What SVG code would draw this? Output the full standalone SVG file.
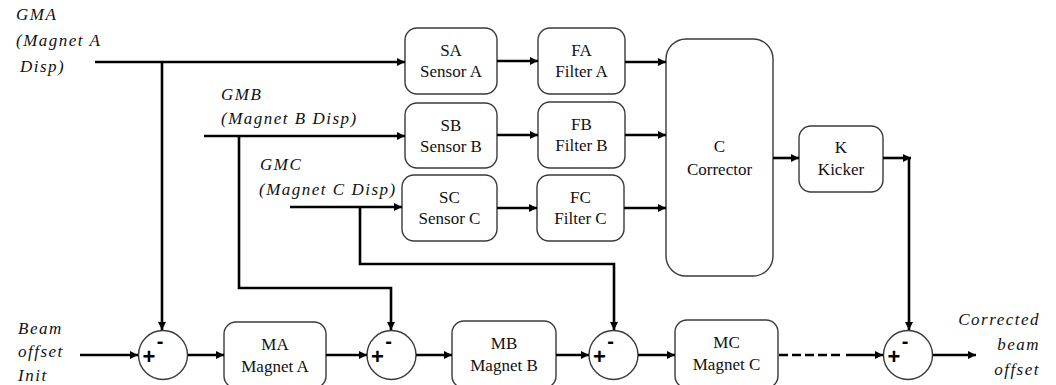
<svg xmlns="http://www.w3.org/2000/svg" width="1056" height="385" viewBox="0 0 1056 385">
<defs>
<marker id="ah" viewBox="0 0 10 10" refX="10" refY="5" markerWidth="9" markerHeight="8" markerUnits="userSpaceOnUse" orient="auto">
<path d="M0,0 L10,5 L0,10 z" fill="#000"/>
</marker>
<style>
.box{fill:#fff;stroke:#3a3a3a;stroke-width:1.4}
.sum{fill:#fff;stroke:#3a3a3a;stroke-width:1.4}
.ln{fill:none;stroke:#000;stroke-width:2.6}
.ar{marker-end:url(#ah)}
</style>
</defs>
<rect width="1056" height="385" fill="#fff"/>

<g id="labels" font-family="Liberation Serif, DejaVu Serif, serif" font-style="italic" font-size="17" fill="#111" letter-spacing="1.5">
<text x="16" y="20">GMA</text>
<text x="16" y="46">(Magnet A</text>
<text x="20" y="72">Disp)</text>
<text x="221" y="100">GMB</text>
<text x="221" y="124">(Magnet B Disp)</text>
<text x="260" y="170">GMC</text>
<text x="259" y="195">(Magnet C Disp)</text>
<text x="18" y="334">Beam</text>
<text x="18" y="357">offset</text>
<text x="18" y="381">Init</text>
<text x="1040" y="325" text-anchor="end">Corrected</text>
<text x="1040" y="350" text-anchor="end">beam</text>
<text x="1040" y="375" text-anchor="end">offset</text>
</g>

<g id="blocks" font-family="Liberation Serif, DejaVu Serif, serif" font-size="17" fill="#111" text-anchor="middle">
<g id="SA"><rect class="box" x="405" y="28" width="92" height="66" rx="12"/><text x="451" y="56">SA</text><text x="451" y="77">Sensor A</text></g>
<g id="SB"><rect class="box" x="405" y="103" width="92" height="65" rx="12"/><text x="451" y="131">SB</text><text x="451" y="152">Sensor B</text></g>
<g id="SC"><rect class="box" x="402" y="175" width="95" height="66" rx="12"/><text x="449.5" y="203">SC</text><text x="449.5" y="224">Sensor C</text></g>
<g id="FA"><rect class="box" x="538" y="28" width="87" height="66" rx="12"/><text x="581.5" y="56">FA</text><text x="581.5" y="77">Filter A</text></g>
<g id="FB"><rect class="box" x="538" y="102" width="87" height="66" rx="12"/><text x="581.5" y="130">FB</text><text x="581.5" y="151">Filter B</text></g>
<g id="FC"><rect class="box" x="537" y="175" width="87" height="66" rx="12"/><text x="580.5" y="203">FC</text><text x="580.5" y="224">Filter C</text></g>
<g id="C"><rect class="box" x="666" y="39" width="107" height="237" rx="20"/><text x="719.5" y="152">C</text><text x="719.5" y="175">Corrector</text></g>
<g id="K"><rect class="box" x="799" y="126" width="84" height="66" rx="12"/><text x="841" y="153">K</text><text x="841" y="175">Kicker</text></g>
<g id="MA"><rect class="box" x="224" y="322" width="102" height="66" rx="12"/><text x="275" y="350">MA</text><text x="275" y="372">Magnet A</text></g>
<g id="MB"><rect class="box" x="452" y="321" width="104" height="67" rx="12"/><text x="504" y="349">MB</text><text x="504" y="371">Magnet B</text></g>
<g id="MC"><rect class="box" x="675" y="320" width="103" height="68" rx="12"/><text x="726.5" y="348">MC</text><text x="726.5" y="370">Magnet C</text></g>
</g>

<g id="sums" font-family="Liberation Sans, Arial, sans-serif" font-weight="bold" fill="#000" text-anchor="middle">
<g id="S1"><circle class="sum" cx="163" cy="355" r="24.5"/><text x="149" y="364" font-size="22">+</text><text x="160" y="348" font-size="20">-</text></g>
<g id="S2"><circle class="sum" cx="391.5" cy="355" r="24.5"/><text x="377.5" y="364" font-size="22">+</text><text x="388.5" y="348" font-size="20">-</text></g>
<g id="S3"><circle class="sum" cx="613.5" cy="355" r="24.5"/><text x="599.5" y="364" font-size="22">+</text><text x="610.5" y="348" font-size="20">-</text></g>
<g id="S4"><circle class="sum" cx="908" cy="355" r="24.5"/><text x="894" y="364" font-size="22">+</text><text x="905" y="348" font-size="20">-</text></g>
</g>

<g id="connectors">
<path class="ln ar" d="M95,62 H405"/>
<path class="ln ar" d="M162,62 V330"/>
<path class="ln ar" d="M204,136 H405"/>
<path class="ln ar" d="M239,136 V288 H391 V330"/>
<path class="ln ar" d="M290,207 H402"/>
<path class="ln ar" d="M360,207 V264 H614 V330"/>
<path class="ln ar" d="M497,61 H538"/>
<path class="ln ar" d="M497,135 H538"/>
<path class="ln ar" d="M497,208 H537"/>
<path class="ln ar" d="M625,62 H666"/>
<path class="ln ar" d="M625,135 H666"/>
<path class="ln ar" d="M624,208 H666"/>
<path class="ln ar" d="M773,158 H799"/>
<path class="ln ar" d="M883,158 H911"/>
<path class="ln ar" d="M909,158 V330"/>
<path class="ln ar" d="M80,355 H138"/>
<path class="ln ar" d="M188,355 H224"/>
<path class="ln ar" d="M326,355 H367"/>
<path class="ln ar" d="M416,355 H452"/>
<path class="ln ar" d="M556,355 H589"/>
<path class="ln ar" d="M638,355 H675"/>
<path class="ln" d="M779,355 H843" stroke-dasharray="9,4"/>
<path class="ln ar" d="M846,355 H883" stroke-width="1.6"/>
<path class="ln ar" d="M933,355 H976"/>
</g>
</svg>
